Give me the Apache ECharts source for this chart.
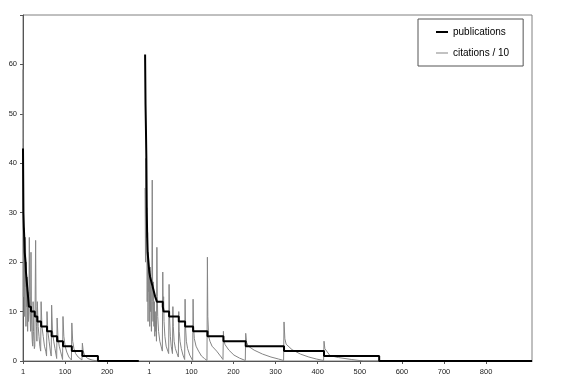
<!DOCTYPE html>
<html><head><meta charset="utf-8">
<script src="https://cdn.jsdelivr.net/npm/echarts@6/dist/echarts.min.js"></script>
<style>html,body{margin:0;padding:0;background:#fff}#c{width:567px;height:387px}</style>
</head><body><div id="c"></div>
<script>
// combined category axis: panel 1 ranks sit at position = rank, panel 2 ranks at position = rank + PANEL2_OFFSET
const PANEL2_OFFSET = 290;
const X_MIN = 1, X_MAX = 1210;
const xTickValues = [1,101,201,301,401,501,601,701,801,901,1001,1101];
const xTickLabels = ['1','100','200','1','100','200','300','400','500','600','700','800'];

// panel 1: [rank, publications] (value holds from rank until next entry)
const pub1 = [[1,43],[2,30],[3,27],[4,25],[5,22],[6,21],[7,20],[8,18],[9,17],[10,16],[11,15],[12,14],[13,13],[14,12],
  [15,11],[20,10],[29,9],[35,8],[44,7],[58,6],[69,5],[82,4],[96,3],[117,2],[142,1],[179,0],[276,0]];
// panel 1: [rank, citations / 10]
const cit1 = [[1,59],[2,13],[3,27],[4,9],[5,22],[6,15],[7,25],[8,7],[9,20],[10,11],[11,17],[12,6],[13,14],[14,8],[15,10],
  [16,25],[17,14],[18,9],[19,6],[20,22],[21,10],[22,6],[23,4],[24,3],[25,12],[26,6],[27,4],[28,2.5],[29,3],
  [31,24.4],[32,11],[33,7],[34,4],[35,12],[37,7],[39,5],[41,3],[43,2],[44,12],[46,7],[49,5],[52,3],[55,2],[57,1],
  [58,10],[60,6],[63,4],[66,2],[68,1],[69,11.3],[71,6],[74,4],[77,2.5],[80,1],[81,0.5],
  [82,8.7],[84,5],[87,3],[90,2],[93,1],[95,0.3],[96,9],[98,5],[101,3],[105,1.8],[110,0.8],[116,0.2],
  [117,7.7],[119,4],[122,2.5],[126,1.5],[132,0.8],[141,0.2],[142,3.6],[144,2],[148,1],[155,0.5],[165,0.2],[178,0],[276,0]];

// panel 2: [rank, publications]
const pub2 = [[1,62],[2,52],[3,47],[4,41],[5,30],[6,25],[7,22],[9,20],[11,18],[13,17],[16,16],[19,15],[22,14],[25,13],
  [29,12],[43,11],[45,10],[58,9],[81,8],[96,7],[115,6],[149,5],[187,4],[240,3],[331,2],[426,1],[557,0],[920,0]];
// panel 2: [rank, citations / 10]
const cit2 = [[1,35],[2,20],[3,41],[4,25],[5,31],[6,12],[7,26],[8,8],[9,22],[10,14],[11,17],[12,7],[13,19],[14,10],
  [15,15],[16,6],[17,12],[18,36.6],[19,12],[20,8],[21,16],[22,7],[23,12],[24,5],[25,10],[26,6],[27,8],[28,4],
  [29,23],[30,13],[31,9],[33,6],[36,4],[39,3],[42,2],[43,18],[44,10],[45,13],[46,8],[48,5],[51,3],[55,2],[57,1.5],
  [58,15.5],[59,9],[61,5],[63,3],[66,1.5],[67,11],[68,7],[70,4],[73,2.5],[77,1.5],[80,0.8],
  [81,10],[82,6],[84,4],[87,2.5],[91,1.2],[95,0.3],[96,12.5],[97,7],[99,4],[102,2.5],[107,1.2],[114,0.1],
  [115,12.5],[116,7],[118,4.5],[122,3],[128,2],[135,1],[142,0.5],[148,0.1],
  [149,21],[150,9],[152,5],[155,4],[160,3],[171,2],[180,1],[186,0.3],
  [187,6],[188,4.2],[191,3.3],[200,2.2],[212,1.2],[225,0.6],[239,0.1],
  [240,5.6],[242,3.8],[246,3],[260,2.2],[280,1.4],[300,0.8],[318,0.4],[330,0.1],
  [331,7.9],[333,4.5],[336,3.4],[350,2.3],[370,1.4],[390,0.8],[408,0.4],[425,0.1],
  [426,4],[428,2.5],[440,1.1],[460,0.7],[492,0.3],[519,0],[557,0]];

const shift = (arr, off) => arr.map(p => [p[0] + off, p[1]]);
const FONT = 'Liberation Sans, Arial, sans-serif';
const PUB = 'publications', CIT = 'citations / 10';
const pubStyle = { color: '#000', width: 2 };
const citStyle = { color: '#858585', width: 1 };
const mk = (name, data, style, step) => ({
  name, type: 'line', data, symbol: 'none', showSymbol: false, step: step || false,
  lineStyle: style, itemStyle: { color: style.color }, z: step ? 3 : 2, animation: false
});
// legend icons: a horizontal bar inside a 12x10 box (2px for publications, 1px for citations)
const ICON_PUB = 'path://M0,0M12,10M0,4L12,4L12,6L0,6Z';
const ICON_CIT = 'path://M0,0M12,10M0,4.5L12,4.5L12,5.5L0,5.5Z';

const chart = echarts.init(document.getElementById('c'));
chart.setOption({
  animation: false,
  backgroundColor: '#fff',
  grid: { left: 23, right: 35, top: 15, bottom: 26, show: true, borderColor: '#808080', borderWidth: 1, outerBoundsMode: 'none' },
  legend: {
    data: [{ name: PUB, icon: ICON_PUB }, { name: CIT, icon: ICON_CIT }],
    orient: 'vertical', left: 418, top: 19,
    padding: [8, 14, 8, 18], itemGap: 11, itemWidth: 12, itemHeight: 10,
    borderColor: '#555', borderWidth: 1, backgroundColor: '#fff',
    textStyle: { fontSize: 10, color: '#000', fontFamily: FONT }
  },
  xAxis: {
    type: 'value', min: X_MIN, max: X_MAX,
    splitLine: { show: false },
    axisLine: { show: true, lineStyle: { color: '#555', width: 1 } },
    axisTick: { show: true, length: 3, customValues: xTickValues, lineStyle: { color: '#555' } },
    axisLabel: {
      customValues: xTickValues, margin: 7, fontSize: 7.5, color: '#222', fontFamily: FONT,
      formatter: v => { const i = xTickValues.indexOf(v); return i >= 0 ? xTickLabels[i] : ''; }
    }
  },
  yAxis: {
    type: 'value', min: 0, max: 70, interval: 10,
    splitLine: { show: false },
    axisLine: { show: true, lineStyle: { color: '#555', width: 1 } },
    axisTick: { show: true, length: 3, lineStyle: { color: '#555' } },
    axisLabel: { margin: 6, fontSize: 7.5, color: '#222', fontFamily: FONT, formatter: v => v === 70 ? '' : String(v) }
  },
  series: [
    mk(CIT, cit1, citStyle),
    mk(CIT, shift(cit2, PANEL2_OFFSET), citStyle),
    mk(PUB, pub1, pubStyle, 'end'),
    mk(PUB, shift(pub2, PANEL2_OFFSET), pubStyle, 'end')
  ]
});
</script></body></html>
